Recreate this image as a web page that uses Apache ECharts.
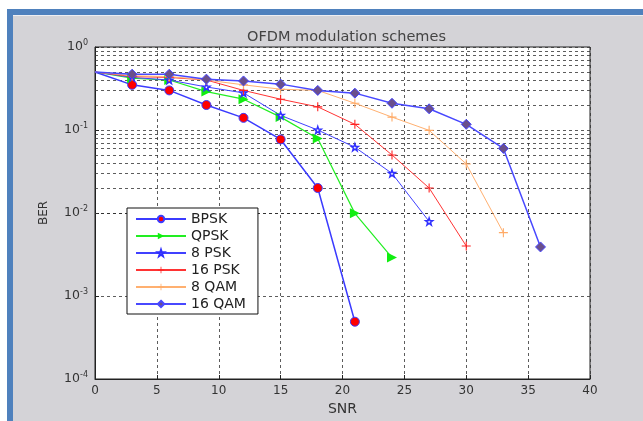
<!DOCTYPE html>
<html>
<head>
<meta charset="utf-8">
<script src="https://cdn.jsdelivr.net/npm/echarts@6/dist/echarts.min.js"></script>
<style>
html, body { margin: 0; padding: 0; background: #ffffff; }
#main { width: 643px; height: 421px; }
</style>
</head>
<body>
<div id="main"></div>
<script>
var snr = [0, 3, 6, 9, 12, 15, 18, 21, 24, 27, 30, 33, 36];
var bpsk = [0.5, 0.35, 0.30, 0.20, 0.14, 0.077, 0.02, 0.00049];
var qpsk = [0.5, 0.42, 0.40, 0.29, 0.235, 0.143, 0.079, 0.0099, 0.0029];
var psk8 = [0.5, 0.43, 0.40, 0.33, 0.28, 0.15, 0.10, 0.062, 0.030, 0.0079];
var psk16 = [0.5, 0.44, 0.43, 0.40, 0.30, 0.235, 0.19, 0.117, 0.050, 0.020, 0.0040];
var qam8 = [0.5, 0.45, 0.44, 0.40, 0.35, 0.31, 0.30, 0.21, 0.143, 0.099, 0.039, 0.0058];
var qam16 = [0.5, 0.47, 0.47, 0.41, 0.39, 0.357, 0.30, 0.278, 0.21, 0.18, 0.117, 0.060, 0.0039];
var names = ['BPSK', 'QPSK', '8 PSK', '16 PSK', '8 QAM', '16 QAM'];
// minor grid levels (2..9 in each decade)
var minorGrid = [];
[0.0001, 0.001, 0.01, 0.1].forEach(function (d) {
    for (var k = 2; k <= 9; k++) minorGrid.push(+(d * k).toPrecision(3));
});

function pairs(arr) {
    return arr.map(function (v, i) {
        var p = { value: [snr[i], v] };
        if (i === 0) p.symbol = 'none';
        return p;
    });
}

var font = 'DejaVu Sans';
var plusPath = 'path://M-1.2,-10H1.2V-1.2H10V1.2H1.2V10H-1.2V1.2H-10V-1.2H-1.2Z';
var starPath = 'path://M0,-10L2.35,-3.24L9.51,-3.09L3.8,1.24L5.88,8.09L0,4L-5.88,8.09L-3.8,1.24L-9.51,-3.09L-2.35,-3.24Z';
var gridStyle = { color: '#333', width: 0.8, type: [3, 3] };

var myChart = echarts.init(document.getElementById('main'));
var option = {
    backgroundColor: '#ffffff',
    animation: false,
    title: {
        text: 'OFDM modulation schemes',
        left: 242,
        top: 25,
        textStyle: { fontFamily: font, fontSize: 14.5, fontWeight: 'normal', color: '#444' }
    },
    graphic: [
        { type: 'rect', z: -10, shape: { x: 7, y: 9, width: 636, height: 412 }, style: { fill: '#d4d3d7' } },
        { type: 'rect', z: -9, shape: { x: 7, y: 9, width: 636, height: 6 }, style: { fill: '#4f81bd' } },
        { type: 'rect', z: -9, shape: { x: 13, y: 15, width: 630, height: 1 }, style: { fill: '#eeeef2' } },
        { type: 'rect', z: -9, shape: { x: 7, y: 9, width: 6, height: 412 }, style: { fill: '#4f81bd' } }
    ],
    grid: {
        left: 95, right: 53, top: 47, bottom: 42,
        show: true, backgroundColor: '#ffffff', borderColor: '#222', borderWidth: 1
    },
    legend: {
        orient: 'vertical',
        left: 127, top: 208,
        backgroundColor: '#ffffff',
        borderColor: '#111', borderWidth: 1,
        padding: [4, 12, 3, 8],
        itemWidth: 50, itemHeight: 8, itemGap: 3,
        textStyle: { fontFamily: font, fontSize: 14, lineHeight: 14, color: '#222' },
        data: names
    },
    xAxis: {
        type: 'value',
        min: 0, max: 40, interval: 5,
        name: 'SNR', nameLocation: 'middle', nameGap: 21,
        nameTextStyle: { fontFamily: font, fontSize: 14, color: '#333' },
        axisLine: { lineStyle: { color: '#222' } },
        axisTick: { inside: true, length: 4, lineStyle: { color: '#222' } },
        axisLabel: { fontFamily: font, fontSize: 12, color: '#333', margin: 6 },
        splitLine: { show: true, lineStyle: gridStyle }
    },
    yAxis: {
        type: 'log', logBase: 10,
        min: 0.0001, max: 1,
        name: 'BER', nameLocation: 'middle', nameGap: 45,
        nameTextStyle: { fontFamily: font, fontSize: 12, color: '#333' },
        axisLine: { lineStyle: { color: '#222' } },
        axisTick: { inside: true, length: 4, lineStyle: { color: '#222' } },
        axisLabel: {
            margin: 7,
            formatter: function (v) {
                var e = Math.round(Math.log10(v));
                return '{b|10}{s|' + (e === 0 ? '0' : e) + '}';
            },
            rich: {
                b: { fontFamily: font, fontSize: 12.5, color: '#333' },
                s: { fontFamily: font, fontSize: 8, color: '#333', padding: [0, 0, 8, 0] }
            }
        },
        splitLine: { show: true, lineStyle: gridStyle }
    },
    series: [
        {
            name: names[0], type: 'line', data: pairs(bpsk),
            symbol: 'circle', symbolSize: 9,
            lineStyle: { color: '#3b3bff', width: 1.5 },
            itemStyle: { color: '#ff0000', borderColor: '#3b3bff', borderWidth: 1 },
            markLine: {
                silent: true, symbol: 'none', label: { show: false },
                lineStyle: gridStyle, z: 1,
                data: minorGrid.map(function (v) { return { yAxis: v }; })
            }
        },
        {
            name: names[1], type: 'line', data: pairs(qpsk),
            symbol: 'triangle', symbolRotate: -90, symbolSize: 10,
            lineStyle: { color: '#22ee22', width: 1.2 },
            itemStyle: { color: '#11ee11', borderColor: '#11ee11', borderWidth: 0 }
        },
        {
            name: names[2], type: 'line', data: pairs(psk8),
            symbol: starPath, symbolSize: 7,
            lineStyle: { color: '#4040ff', width: 1 },
            itemStyle: { color: '#ffffff', borderColor: '#3030ff', borderWidth: 1.5 }
        },
        {
            name: names[3], type: 'line', data: pairs(psk16),
            symbol: plusPath, symbolSize: 9,
            lineStyle: { color: '#ff3333', width: 1 },
            itemStyle: { color: '#ff2222', borderWidth: 0 }
        },
        {
            name: names[4], type: 'line', data: pairs(qam8),
            symbol: plusPath, symbolSize: 9,
            lineStyle: { color: '#ffb070', width: 1 },
            itemStyle: { color: '#ffaa66', borderWidth: 0 }
        },
        {
            name: names[5], type: 'line', data: pairs(qam16),
            symbol: 'diamond', symbolSize: 10,
            lineStyle: { color: '#4848ff', width: 1.5 },
            itemStyle: { color: '#6a4f8c', borderColor: '#4848ff', borderWidth: 1 }
        }
    ]
};
myChart.setOption(option);
</script>
</body>
</html>
